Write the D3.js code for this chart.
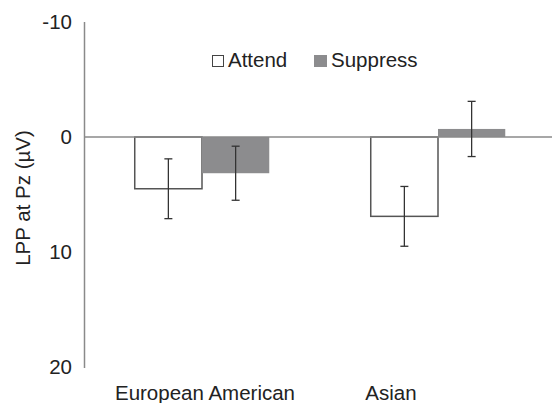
<!DOCTYPE html>
<html>
<head>
<meta charset="utf-8">
<script src="https://cdn.jsdelivr.net/npm/d3@7"></script>
<style>
  body { margin: 0; background: #fff; }
  text { font-family: "Liberation Sans", Arial, sans-serif; fill: #222; }
</style>
</head>
<body>
<div id="chart"></div>
<script>
const groups = ['European American', 'Asian'];
const conditions = ['Attend', 'Suppress'];
// mean LPP (µV) per group, in condition order
const attendValues = [4.5, 6.9];
const suppressValues = [3.15, -0.7];
// error bar half-widths
const attendErrors = [2.6, 2.6];
const suppressErrors = [2.35, 2.4];
const yTicks = [-10, 0, 10, 20];

const width = 552, height = 403;
const fontSize = 20.5;
const svg = d3.select('#chart').append('svg')
    .attr('width', width)
    .attr('height', height);

const y = d3.scaleLinear().domain([-10, 20]).range([22, 367]);
const x = d3.scaleBand().domain(groups).range([84, 556]).paddingInner(0.43).paddingOuter(0.215);
const xSub = d3.scaleBand().domain(conditions).range([0, x.bandwidth()]);

const rows = [];
groups.forEach((g, i) => {
    rows.push({ group: g, cond: 'Attend', value: attendValues[i], err: attendErrors[i] });
    rows.push({ group: g, cond: 'Suppress', value: suppressValues[i], err: suppressErrors[i] });
});

// y axis line
svg.append('line')
    .attr('x1', 84.5).attr('x2', 84.5)
    .attr('y1', y(-10)).attr('y2', y(20) + 1)
    .attr('stroke', '#8a8a8a').attr('stroke-width', 1.5);

// tick labels
svg.selectAll('.ytick')
    .data(yTicks)
    .join('text')
    .attr('class', 'ytick')
    .attr('x', 72)
    .attr('y', d => y(d) + 7)
    .attr('text-anchor', 'end')
    .attr('font-size', fontSize)
    .text(d => d);

// axis title
svg.append('text')
    .attr('transform', 'translate(30,198) rotate(-90)')
    .attr('text-anchor', 'middle')
    .attr('font-size', fontSize)
    .text('LPP at Pz (µV)');

// bars
svg.selectAll('.bar')
    .data(rows)
    .join('rect')
    .attr('class', 'bar')
    .attr('x', d => x(d.group) + xSub(d.cond))
    .attr('width', xSub.bandwidth())
    .attr('y', d => Math.min(y(0), y(d.value)))
    .attr('height', d => Math.abs(y(d.value) - y(0)))
    .attr('fill', d => d.cond === 'Attend' ? '#fff' : '#8c8c8e')
    .attr('stroke', d => d.cond === 'Attend' ? '#555' : 'none')
    .attr('stroke-width', 1.5);

// zero line
svg.append('line')
    .attr('x1', 84).attr('x2', width)
    .attr('y1', y(0)).attr('y2', y(0))
    .attr('stroke', '#8a8a8a').attr('stroke-width', 1.5);

// error bars
const eb = svg.selectAll('.err')
    .data(rows)
    .join('g')
    .attr('class', 'err')
    .attr('transform', d => `translate(${x(d.group) + xSub(d.cond) + xSub.bandwidth() / 2},0)`)
    .attr('stroke', '#333')
    .attr('stroke-width', 1.3);
eb.append('line')
    .attr('y1', d => y(d.value - d.err)).attr('y2', d => y(d.value + d.err));
eb.append('line')
    .attr('x1', -4).attr('x2', 4)
    .attr('y1', d => y(d.value - d.err)).attr('y2', d => y(d.value - d.err));
eb.append('line')
    .attr('x1', -4).attr('x2', 4)
    .attr('y1', d => y(d.value + d.err)).attr('y2', d => y(d.value + d.err));

// category labels (the reference sets them slightly off the band centres)
const labelShift = { 'European American': 3, 'Asian': -47 };
svg.selectAll('.xlab')
    .data(groups)
    .join('text')
    .attr('class', 'xlab')
    .attr('x', d => x(d) + x.bandwidth() / 2 + labelShift[d])
    .attr('y', 400)
    .attr('text-anchor', 'middle')
    .attr('font-size', fontSize)
    .text(d => d);

// legend
const legend = svg.append('g');
const legendX = { Attend: 212, Suppress: 314 };
conditions.forEach(c => {
    const g = legend.append('g').attr('transform', `translate(${legendX[c]},55)`);
    if (c === 'Attend') {
        g.append('rect').attr('x', 0.5).attr('y', 0.5).attr('width', 11).attr('height', 11)
            .attr('fill', '#fff').attr('stroke', '#444').attr('stroke-width', 1);
        g.append('text').attr('x', 16).attr('y', 12).attr('font-size', fontSize).text(c);
    } else {
        g.append('rect').attr('x', 0).attr('y', 0).attr('width', 13).attr('height', 12)
            .attr('fill', '#8c8c8e');
        g.append('text').attr('x', 17).attr('y', 12).attr('font-size', fontSize).text(c);
    }
});
</script>
</body>
</html>
